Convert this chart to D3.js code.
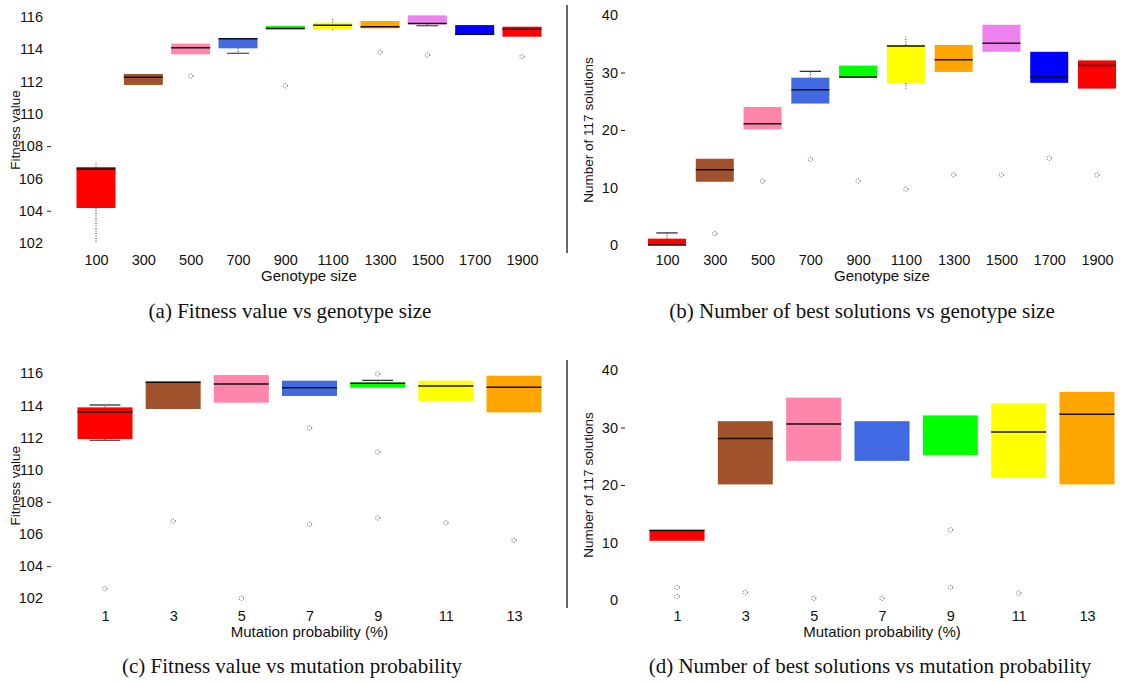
<!DOCTYPE html>
<html>
<head>
<meta charset="utf-8">
<script src="https://cdn.jsdelivr.net/npm/d3@7"></script>
<style>
	body { margin: 0; background: #fff; }
	svg { display: block; }
</style>
</head>
<body>
<script>
// categories
const genoSizes = ['100', '300', '500', '700', '900', '1100', '1300', '1500', '1700', '1900']
const mutProbs  = ['1', '3', '5', '7', '9', '11', '13']

const genoColors = ['#ff0000', '#a0522d', '#ff85ab', '#4169e1', '#00ff00', '#ffff00', '#ffa500', '#ee82ee', '#0000ff', '#ff0000']
const mutColors  = ['#ff0000', '#a0522d', '#ff85ab', '#4169e1', '#00ff00', '#ffff00', '#ffa500']

// boxes: [whisker low, q1, median, q3, whisker high], null = not drawn
const fitnessGeno = [
	[102, 104.17, 106.58, 106.7, 106.95],
	[null, 111.79, 112.26, 112.47, null],
	[null, 113.69, 114.1, 114.35, null],
	[113.75, 114.06, 114.65, 114.68, null],
	[null, 115.24, 115.28, 115.44, null],
	[115.15, 115.24, 115.49, 115.65, 115.88],
	[null, 115.3, 115.4, 115.75, null],
	[115.46, 115.55, 115.6, 116.1, null],
	[null, 114.88, 114.93, 115.5, null],
	[null, 114.78, 115.24, 115.4, null]
]
const fitnessGenoOut = [['500', 112.35], ['900', 111.74], ['1300', 113.81], ['1500', 113.65], ['1900', 113.54]]
const fitnessGenoCaps = ['700', '1500']

const bestGeno = [
	[null, 0, 0, 1.1, 2.1],
	[null, 11, 13.1, 15, null],
	[null, 20.1, 21.1, 24, null],
	[null, 24.6, 27, 29.1, 30.2],
	[null, 29.1, 29.2, 31.2, null],
	[27.2, 28.2, 34.6, 34.8, 36.2],
	[null, 30.1, 32.2, 34.8, null],
	[null, 33.6, 35.1, 38.3, null],
	[null, 28.2, 29.2, 33.6, null],
	[null, 27.2, 31.2, 32.1, null]
]
const bestGenoOut = [['300', 2], ['500', 11.1], ['700', 14.9], ['900', 11.1], ['1100', 9.7],
	['1300', 12.2], ['1500', 12.2], ['1700', 15.1], ['1900', 12.2]]
const bestGenoCaps = ['100', '700']

const fitnessMut = [
	[111.83, 111.91, 113.59, 113.88, 114.03],
	[null, 113.78, 115.45, 115.48, null],
	[null, 114.17, 115.33, 115.89, null],
	[null, 114.59, 115.1, 115.54, null],
	[null, 115.1, 115.38, 115.42, 115.56],
	[null, 114.28, 115.21, 115.54, null],
	[null, 113.57, 115.13, 115.85, null]
]
const fitnessMutOut = [['1', 102.6], ['3', 106.8], ['5', 102], ['7', 112.6], ['7', 106.6],
	['9', 115.96], ['9', 111.1], ['9', 107], ['11', 106.7], ['13', 105.6]]
const fitnessMutCaps = ['1', '9']

const bestMut = [
	[null, 10.3, 12.1, 12.2, null],
	[null, 20.1, 28.1, 31.1, null],
	[null, 24.2, 30.6, 35.2, null],
	[null, 24.2, null, 31.1, null],
	[null, 25.2, null, 32.1, null],
	[null, 21.2, 29.2, 34.2, null],
	[null, 20.1, 32.3, 36.2, null]
]
const bestMutOut = [['1', 2.2], ['1', 0.6], ['3', 1.3], ['5', 0.3], ['7', 0.3], ['9', 12.2], ['9', 2.2], ['11', 1.2]]
const bestMutCaps = []

// tick labels
const fitnessTicks = [102, 104, 106, 108, 110, 112, 114, 116]
const fitnessMarked = [104, 108]
const bestTicks = [0, 10, 20, 30, 40]
const bestMarked = [20, 30]

const sans  = '"Liberation Sans", Arial, sans-serif'
const serif = '"Liberation Serif", "Times New Roman", serif'

const svg = d3.select('body').append('svg')
	.attr('width', 1137)
	.attr('height', 682)

function panel(o) {
	const x = d3.scalePoint().domain(o.cats).range(o.xr)
	const y = d3.scaleLinear().domain(o.yd).range(o.yr)
	const g = svg.append('g')

	// Y axis

	const ya = g.append('g')
		.attr('transform', `translate(${o.axisX},0)`)
		.call(d3.axisLeft(y).tickValues(o.ticks).tickSize(0).tickPadding(o.pad).tickFormat(d3.format('d')))
		.attr('font-family', sans)
		.attr('font-size', 14.5)
	ya.select('.domain').remove()
	ya.selectAll('text').attr('fill', '#111')
	ya.selectAll('.tick')
		.filter(d => o.marked.includes(d))
		.append('line')
		.attr('x1', -5)
		.attr('x2', -1)
		.attr('stroke', '#222')

	// X axis

	const xa = g.append('g')
		.attr('transform', `translate(0,${o.labY - 10})`)
		.call(d3.axisBottom(x).tickSize(0).tickPadding(0))
		.attr('font-family', sans)
		.attr('font-size', 14.5)
	xa.select('.domain').remove()
	xa.selectAll('text').attr('fill', '#111')

	// Boxes

	const bw = o.bw
	const box = g.selectAll('g.box')
		.data(o.boxes)
		.join('g')
		.attr('class', 'box')
		.attr('transform', (d, i) => `translate(${x(o.cats[i])},0)`)

	box.filter(d => d[4] != null)
		.append('line')
		.attr('y1', d => y(d[3]))
		.attr('y2', d => y(d[4]))
		.attr('stroke', '#222')
		.attr('stroke-dasharray', '1,1.5')
	box.filter(d => d[0] != null)
		.append('line')
		.attr('y1', d => y(d[1]))
		.attr('y2', d => y(d[0]))
		.attr('stroke', '#222')
		.attr('stroke-dasharray', '1,1.5')

	const capped = box.filter((d, i) => o.caps.includes(o.cats[i]))
	capped.filter(d => d[4] != null)
		.append('line')
		.attr('x1', -bw * 0.28)
		.attr('x2', bw * 0.28)
		.attr('y1', d => y(d[4]))
		.attr('y2', d => y(d[4]))
		.attr('stroke', '#333')
		.attr('stroke-width', 1.3)
	capped.filter(d => d[0] != null)
		.append('line')
		.attr('x1', -bw * 0.28)
		.attr('x2', bw * 0.28)
		.attr('y1', d => y(d[0]))
		.attr('y2', d => y(d[0]))
		.attr('stroke', '#555')
		.attr('stroke-width', 1.3)

	box.append('rect')
		.attr('x', -bw / 2)
		.attr('width', bw)
		.attr('y', d => y(d[3]))
		.attr('height', d => Math.max(1, y(d[1]) - y(d[3])))
		.attr('fill', (d, i) => o.colors[i])

	box.filter(d => d[2] != null)
		.append('line')
		.attr('x1', -bw / 2)
		.attr('x2', bw / 2)
		.attr('y1', d => y(d[2]))
		.attr('y2', d => y(d[2]))
		.attr('stroke', '#111')
		.attr('stroke-width', 1.5)

	// Outliers

	g.selectAll('circle.out')
		.data(o.out)
		.join('circle')
		.attr('class', 'out')
		.attr('cx', d => x(d[0]))
		.attr('cy', d => y(d[1]))
		.attr('r', 2.2)
		.attr('fill', 'none')
		.attr('stroke', '#444')
		.attr('stroke-width', 0.9)
		.attr('stroke-dasharray', '1,1.3')

	// Titles

	const mid = (o.xr[0] + o.xr[1]) / 2
	g.append('text')
		.attr('x', mid)
		.attr('y', o.labY + 15.5)
		.attr('text-anchor', 'middle')
		.attr('font-family', sans)
		.attr('font-size', 15)
		.attr('fill', '#111')
		.text(o.xTitle)

	g.append('text')
		.attr('transform', `translate(${o.yTitleX},${(o.yr[0] + o.yr[1]) / 2}) rotate(-90)`)
		.attr('text-anchor', 'middle')
		.attr('dy', '0.35em')
		.attr('font-family', sans)
		.attr('font-size', 13.5)
		.attr('fill', '#111')
		.text(o.yTitle)

	g.append('text')
		.attr('x', o.capX)
		.attr('y', o.capY)
		.attr('text-anchor', 'middle')
		.attr('font-family', serif)
		.attr('font-size', 21)
		.attr('fill', '#111')
		.text(o.caption)
}

panel({
	cats: genoSizes, colors: genoColors, boxes: fitnessGeno, out: fitnessGenoOut, caps: fitnessGenoCaps,
	xr: [96, 522], yd: [102, 116], yr: [243, 17], bw: 39,
	ticks: fitnessTicks, marked: fitnessMarked, axisX: 52, pad: 9, labY: 265,
	xTitle: 'Genotype size', yTitle: 'Fitness value', yTitleX: 15,
	caption: '(a) Fitness value vs genotype size', capX: 290, capY: 318
})

panel({
	cats: genoSizes, colors: genoColors, boxes: bestGeno, out: bestGenoOut, caps: bestGenoCaps,
	xr: [667, 1097], yd: [0, 40], yr: [245, 15], bw: 38,
	ticks: bestTicks, marked: bestMarked, axisX: 626, pad: 8, labY: 265,
	xTitle: 'Genotype size', yTitle: 'Number of 117 solutions', yTitleX: 588,
	caption: '(b) Number of best solutions vs genotype size', capX: 862, capY: 318
})

panel({
	cats: mutProbs, colors: mutColors, boxes: fitnessMut, out: fitnessMutOut, caps: fitnessMutCaps,
	xr: [105, 514], yd: [102, 116], yr: [598.3, 373.3], bw: 55,
	ticks: fitnessTicks, marked: fitnessMarked, axisX: 52, pad: 9, labY: 621,
	xTitle: 'Mutation probability (%)', yTitle: 'Fitness value', yTitleX: 15,
	caption: '(c) Fitness value vs mutation probability', capX: 292, capY: 673
})

panel({
	cats: mutProbs, colors: mutColors, boxes: bestMut, out: bestMutOut, caps: bestMutCaps,
	xr: [677, 1087], yd: [0, 40], yr: [600, 370], bw: 55,
	ticks: bestTicks, marked: bestMarked, axisX: 626, pad: 8, labY: 621,
	xTitle: 'Mutation probability (%)', yTitle: 'Number of 117 solutions', yTitleX: 588,
	caption: '(d) Number of best solutions vs mutation probability', capX: 870, capY: 673
})

// separators between left and right panels
svg.selectAll('line.sep')
	.data([[5, 253], [360, 608]])
	.join('line')
	.attr('class', 'sep')
	.attr('x1', 567)
	.attr('x2', 567)
	.attr('y1', d => d[0])
	.attr('y2', d => d[1])
	.attr('stroke', '#666')
	.attr('stroke-width', 2)
</script>
</body>
</html>
